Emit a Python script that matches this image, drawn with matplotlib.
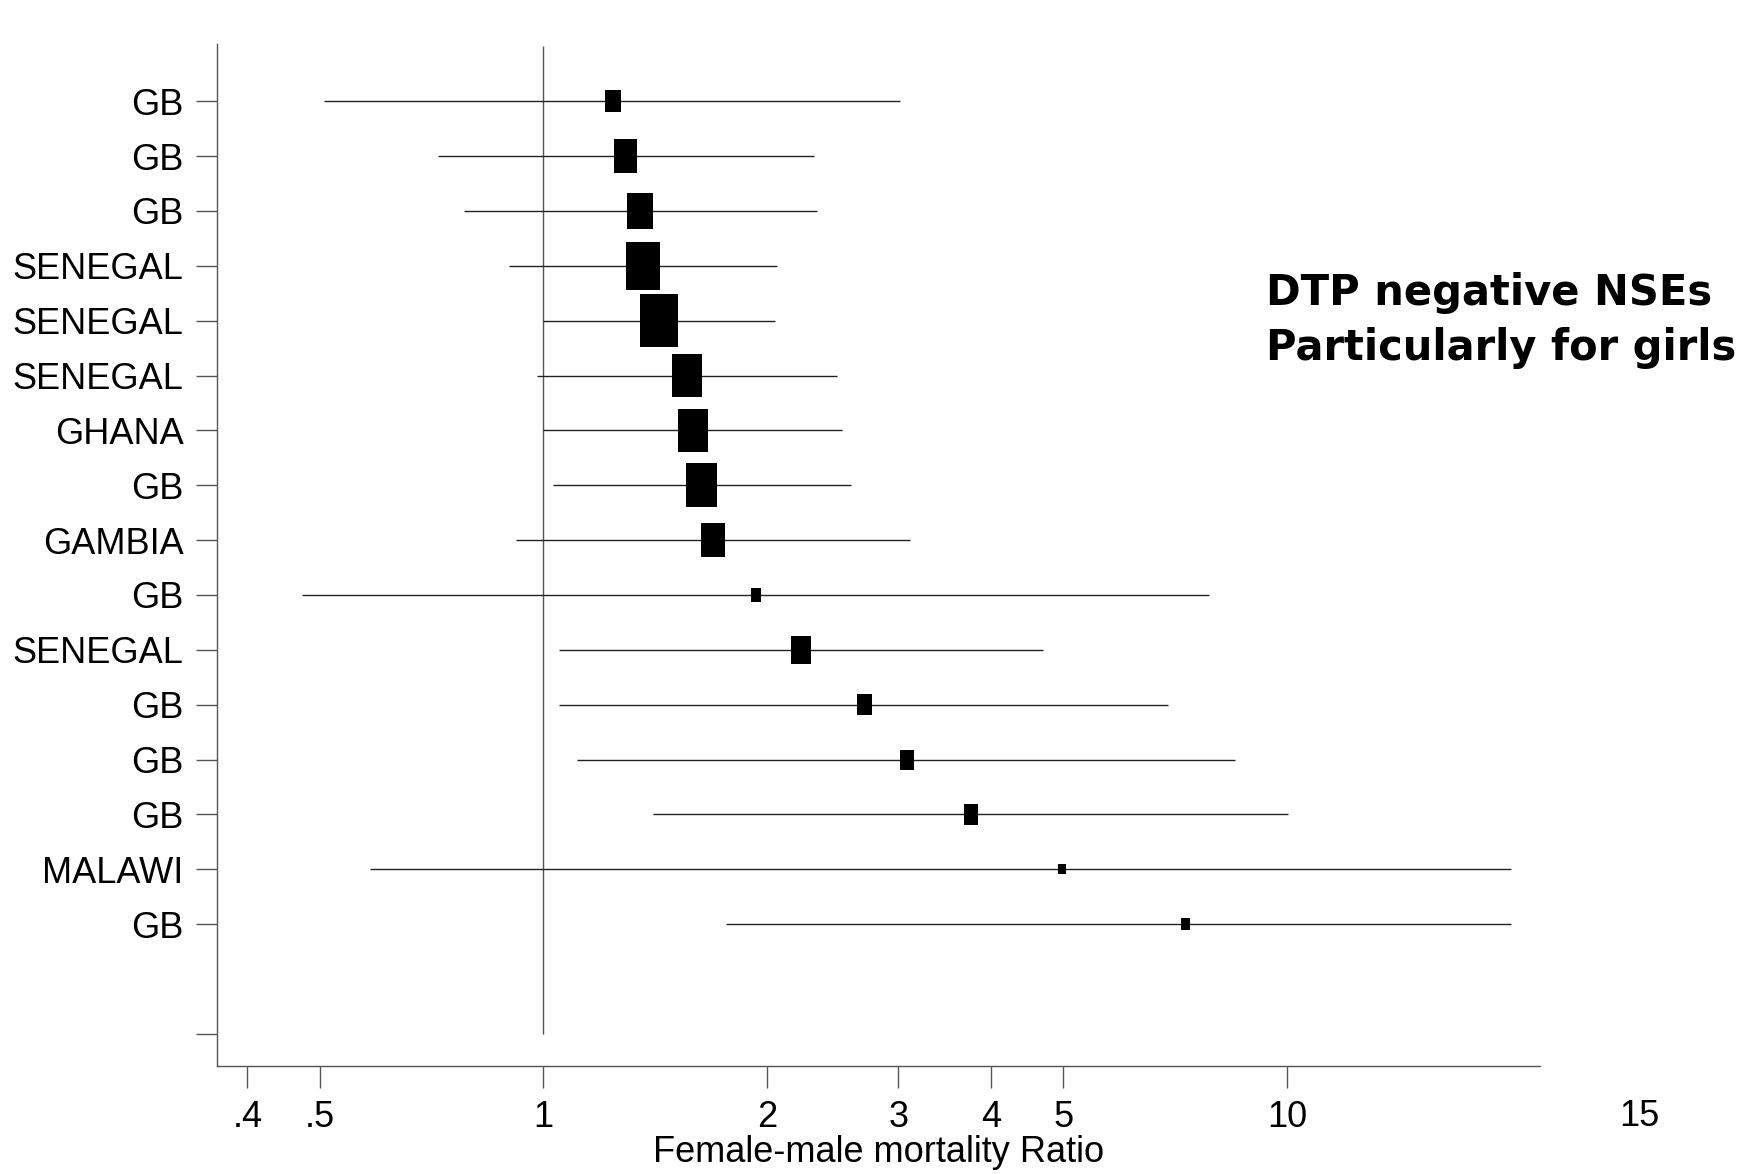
import numpy as np
import matplotlib
matplotlib.use('Agg')
import matplotlib.pyplot as plt
from matplotlib.path import Path

plt.rcParams['font.family'] = ['Liberation Sans', 'DejaVu Sans']

# Studies (top to bottom), estimates and 95% CI
countries = ['GB', 'GB', 'GB', 'SENEGAL', 'SENEGAL', 'SENEGAL', 'GHANA', 'GB',
             'GAMBIA', 'GB', 'SENEGAL', 'GB', 'GB', 'GB', 'MALAWI', 'GB']
ratio = [1.24, 1.29, 1.35, 1.36, 1.43, 1.56, 1.59, 1.63,
         1.69, 1.93, 2.22, 2.70, 3.08, 3.76, 4.98, 7.30]
ci_low = [0.507, 0.721, 0.782, 0.898, 1.00, 0.981, 1.00, 1.029,
          0.919, 0.473, 1.048, 1.048, 1.109, 1.402, 0.584, 1.76]
ci_high = [3.02, 2.31, 2.33, 2.06, 2.05, 2.48, 2.52, 2.59,
           3.11, 7.86, 4.70, 6.92, 8.52, 10.03, 20.0, 20.0]
# study weights (%), box area proportional to weight
weight = [2.7, 6.4, 7.8, 13.0, 16.4, 10.9, 10.7, 11.2,
          6.4, 1.2, 4.3, 2.6, 2.3, 2.4, 0.6, 0.9]

xticks = [0.4, 0.5, 1, 2, 3, 4, 5, 10]
xticklabels = ['.4', '.5', '1', '2', '3', '4', '5', '10']

fig = plt.figure(figsize=(17.46, 11.74), dpi=100)
ax = fig.add_axes([0.1243, 0.0923, 0.882 - 0.1243, 0.9621 - 0.0923])

ypos = np.arange(len(countries))

# confidence intervals
ax.hlines(ypos, ci_low, ci_high, color='#222222', lw=1.0, zorder=2)

# reference line at 1
ax.vlines(1, -1, len(countries) + 1, color='#555555', lw=1.0, zorder=1)

# boxes (taller than wide)
box = Path([(-0.352, -0.5), (0.352, -0.5), (0.352, 0.5), (-0.352, 0.5), (-0.352, -0.5)],
           [Path.MOVETO, Path.LINETO, Path.LINETO, Path.LINETO, Path.CLOSEPOLY])
sizes = (9.5 * np.sqrt(weight)) ** 2
ax.scatter(ratio, ypos, s=sizes, marker=box, color='black', linewidths=0, zorder=3)

ax.set_xscale('log')
ax.set_xlim(0.364, 21.87)
ax.set_ylim(17.58, -1.035)

ax.set_xticks(xticks)
ax.set_xticklabels(xticklabels)
ax.xaxis.set_minor_locator(matplotlib.ticker.NullLocator())
ax.set_yticks(list(ypos) + [len(countries) + 1])
ax.set_yticklabels(countries + [''])

ax.tick_params(axis='both', direction='out', length=15, width=1.0,
               color='#555555', labelsize=26)
ax.tick_params(axis='y', pad=9)
ax.tick_params(axis='x', pad=9, length=16)

for side in ['top', 'right']:
    ax.spines[side].set_visible(False)
for side in ['left', 'bottom']:
    ax.spines[side].set_color('#555555')
    ax.spines[side].set_linewidth(1.0)

ax.set_xlabel('Female-male mortality Ratio', fontsize=26, labelpad=0)

fig.text(0.725, 0.6934, 'DTP negative NSEs\nParticularly for girls',
         fontsize=30, fontweight='bold', family=['DejaVu Sans'],
         ha='left', va='baseline', linespacing=1.4)

fig.text(0.939, 0.0494, '15', fontsize=26, ha='center', va='center')

fig.savefig('out.png', dpi=100)
